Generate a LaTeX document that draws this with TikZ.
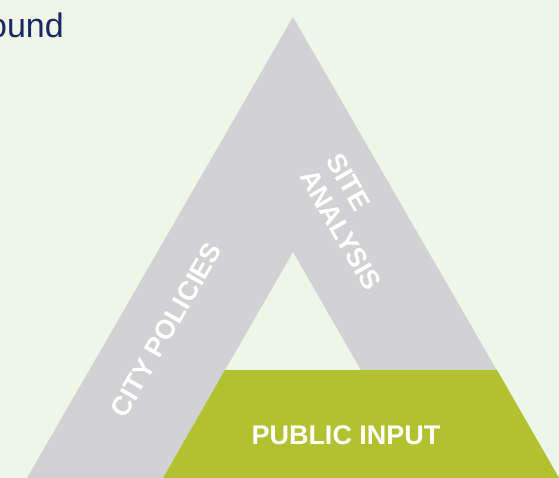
\documentclass[tikz,border=0pt]{standalone}
\usepackage{fontspec}
\setmainfont{Liberation Sans}
\definecolor{bgmint}{RGB}{238,246,232}
\definecolor{bandgray}{RGB}{210,210,213}
\definecolor{inputgreen}{RGB}{177,193,47}
\definecolor{titlenavy}{RGB}{28,38,100}
\tikzset{
    band/.style={fill=bandgray, even odd rule},
    public_block/.style={fill=inputgreen},
    band_label/.style={text=white, font=\bfseries\fontsize{27}{31}\selectfont, inner sep=0pt, align=left},
    title_frag/.style={text=titlenavy, font=\fontsize{34}{40}\selectfont, inner sep=0pt, anchor=base east}
}

\begin{document}
\begin{tikzpicture}[x=1pt, y=-1pt]
      % --- Background ---
      \fill[bgmint] (0,0) rectangle (559,478);
      \useasboundingbox (0,0) rectangle (559,478);

      % --- Title fragment ---
      \node (titleFrag) [title_frag] at (64,38) {ound};

      % --- Triangle frame ---
      \fill[band] (293,17) -- (27,478) -- (559,478) -- cycle
                  (293,252) -- (163,478) -- (423,478) -- cycle;

      % --- Public input block ---
      \fill[public_block] (225,370) -- (497,370) -- (559,478) -- (163,478) -- cycle;

      % --- Labels ---
      \node (cityLabel) [band_label, rotate=60] at (166,330) {CITY POLICIES};
      \node (siteLabel) [band_label, rotate=-60] at (354,222) {SITE\\ANALYSIS};
      \node (publicLabel) [band_label] at (346,435) {PUBLIC INPUT};
  \end{tikzpicture}
\end{document}
